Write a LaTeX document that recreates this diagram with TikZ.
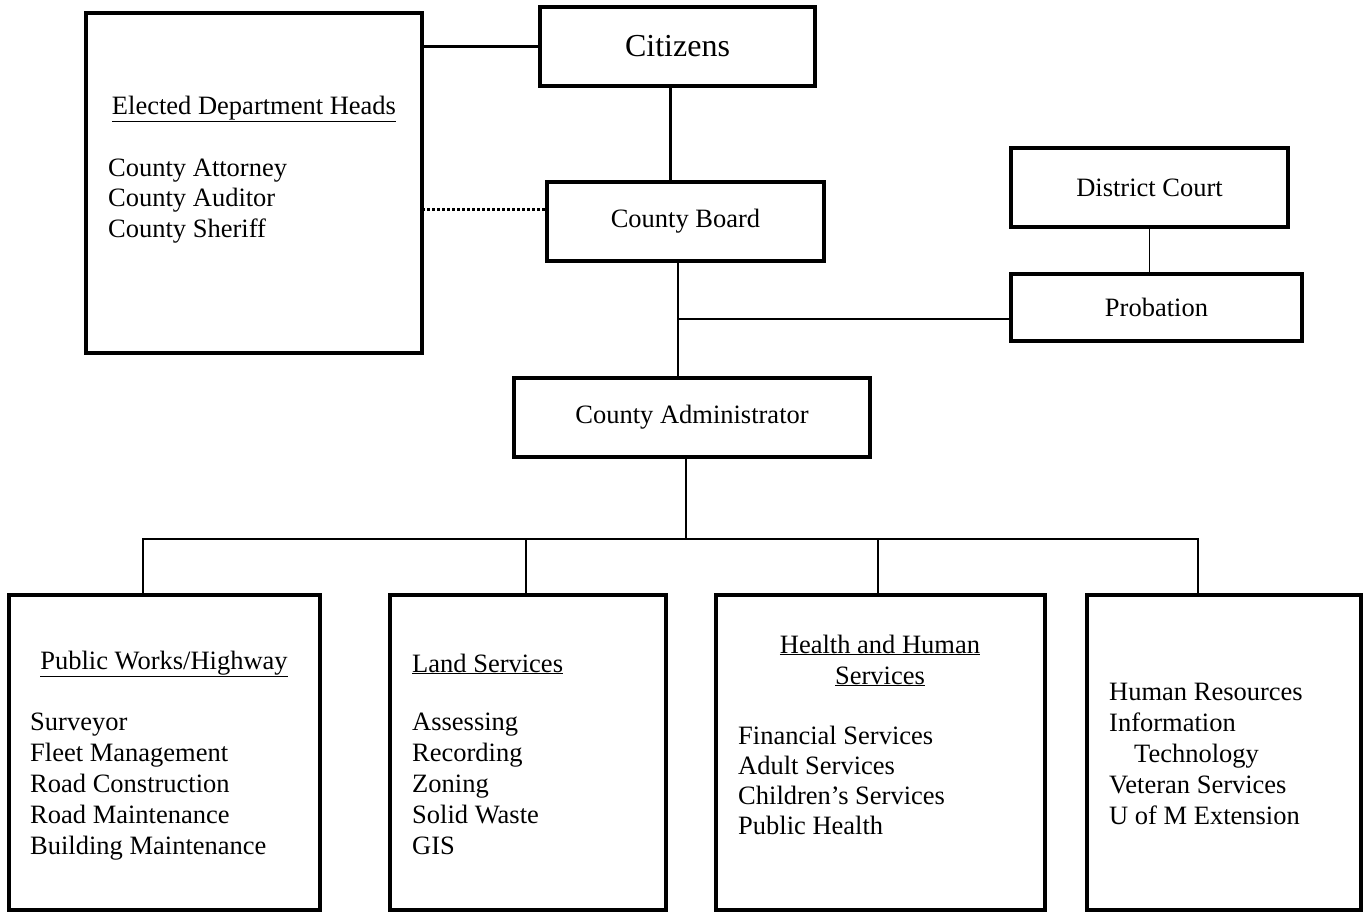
\documentclass[tikz,border=0pt]{standalone}
\usepackage{fontspec}
\setmainfont{Liberation Serif}
\usetikzlibrary{positioning}

\tikzset{
  unit/.style={draw, line width=4.5pt, inner sep=0pt, font=\fontsize{26.5}{31}\selectfont},
  link/.style={line width=2.5pt},
  thinlink/.style={line width=1.5pt},
  dotlink/.style={line width=3pt, dash pattern=on 2.5pt off 2.5pt},
  txt/.style={inner sep=0pt, font=\fontsize{26.5}{31}\selectfont},
  list/.style={txt, align=left, anchor=base west},
}

\begin{document}
\begin{tikzpicture}[x=1pt,y=-1pt]
    \useasboundingbox (0,0) rectangle (1364,915);

    %\draw[step=50,help lines] (0,0) grid (1364,915);

    % upper offices
    \node[unit, minimum width=336pt, minimum height=340pt] (elected) at (254,183) {};
    \node[unit, minimum width=275pt, minimum height=79pt, font=\fontsize{32}{38}\selectfont] (citizens) at (677.5,46.5) {Citizens};
    \node[unit, minimum width=277pt, minimum height=79pt] (board) at (685.5,221.5) {County Board};
    \node[unit, minimum width=277pt, minimum height=79pt] (court) at (1149.5,187.5) {District Court};
    \node[unit, minimum width=291pt, minimum height=67pt] (probation) at (1156.5,307.5) {Probation};
    \node[unit, minimum width=356pt, minimum height=79pt] (admin) at (692,417.5) {County Administrator};

    % lists sit on the baseline of their last line
    \node[txt, anchor=base] (electedtitle) at (254,114) {\underline{Elected Department Heads}};
    \node[list, font=\fontsize{26.5}{30.5}\selectfont] (electedlist) at (108,237) {County Attorney\\County Auditor\\County Sheriff};

    % departments
    \node[unit, minimum width=311pt, minimum height=315pt] (pubworks) at (164.5,752.5) {};
    \node[unit, minimum width=276pt, minimum height=315pt] (land) at (528,752.5) {};
    \node[unit, minimum width=329pt, minimum height=315pt] (health) at (880.5,752.5) {};
    \node[unit, minimum width=274pt, minimum height=315pt] (support) at (1224,752.5) {};

    \node[txt, anchor=base] (pwtitle) at (164,669) {\underline{Public Works/Highway}};
    \node[list] (pwlist) at (30,854) {Surveyor\\Fleet Management\\Road Construction\\Road Maintenance\\Building Maintenance};
    \node[txt, anchor=base west] (landtitle) at (412,672) {\underline{Land Services}};
    \node[list] (landlist) at (412,854) {Assessing\\Recording\\Zoning\\Solid Waste\\GIS};
    \node[txt, align=center, anchor=base] (healthtitle) at (880,684) {\underline{Health and Human}\\\underline{Services}};
    \node[list, font=\fontsize{26.5}{30}\selectfont] (healthlist) at (738,834) {Financial Services\\Adult Services\\Children's Services\\Public Health};
    \node[list] (supportlist) at (1109,824) {Human Resources\\Information\\\hspace*{25pt}Technology\\Veteran Services\\U of M Extension};

    % connections
    \coordinate (split) at (678,319);
    \coordinate (busL) at (143,539);
    \coordinate (busR) at (1198,539);

    \draw[link] (citizens.west) -- (citizens.west -| elected.east);
    \draw[link] ([xshift=-7pt]citizens.south) -- ([xshift=-7pt]citizens.south |- board.north);
    \draw[dotlink] ([yshift=12.5pt]board.west) -- ([yshift=12.5pt]board.west -| elected.east);
    \draw[link] (split |- board.south) -- (split |- admin.north);
    \draw[thinlink] (split) -- (split -| probation.west);
    \draw[thinlink] (court.south) -- (court.south |- probation.north);
    \draw[link] ([xshift=-6pt]admin.south) -- ([xshift=-6pt]admin.south |- busL);
    \draw[link] (busL |- pubworks.north) -- (busL) -- (busR) -- (busR |- support.north);
    \foreach \b/\x in {land/526, health/878}
        \draw[link] (\x,539) -- (\x,0 |- \b.north);
\end{tikzpicture}
\end{document}
